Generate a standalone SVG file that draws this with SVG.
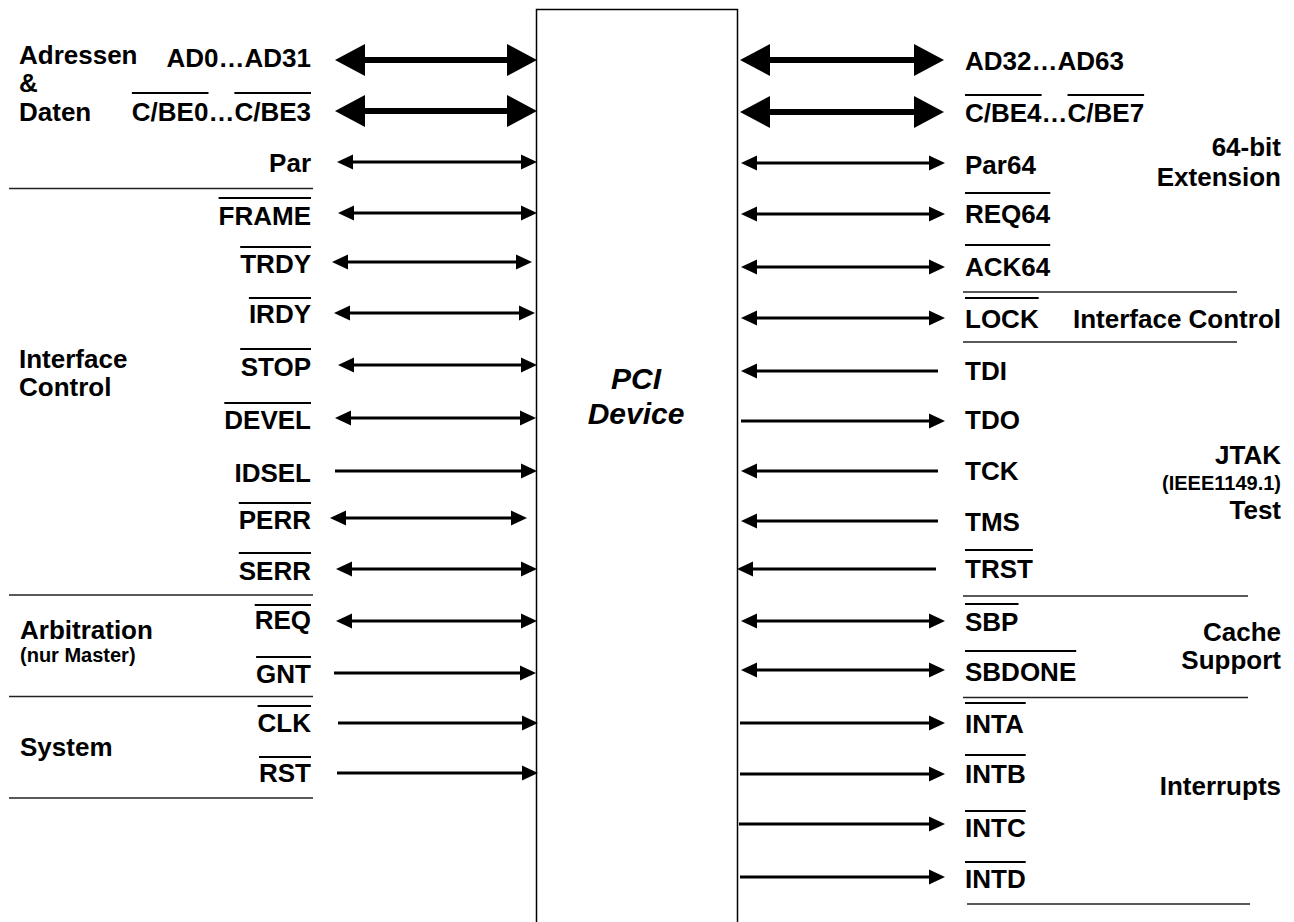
<svg xmlns="http://www.w3.org/2000/svg" width="1294" height="922" viewBox="0 0 1294 922">
<style>
text{font-family:"Liberation Sans",Arial,Helvetica,sans-serif;font-weight:bold;fill:#000}
.l{font-size:26px;text-anchor:end}
.r{font-size:26px;text-anchor:start}
.gl{font-size:26px;text-anchor:start}
.gr{font-size:26px;text-anchor:end}
.sm{font-size:20px}
.ov{stroke:#000;stroke-width:2}
.sep{stroke:#222;stroke-width:1.5}
.thin{stroke:#000;stroke-width:3;fill:none}
.thick{stroke:#000;stroke-width:6;fill:none}
.dbl{marker-start:url(#ah);marker-end:url(#ah)}
.one{marker-end:url(#ah)}
.dblT{marker-start:url(#AH);marker-end:url(#AH)}
</style>
<defs>
<marker id="ah" markerUnits="userSpaceOnUse" viewBox="0 0 16 16" markerWidth="16" markerHeight="16" refX="6" refY="8" orient="auto-start-reverse"><path d="M0,0.5 L16,8 L0,15.5 z" fill="#000"/></marker>
<marker id="AH" markerUnits="userSpaceOnUse" viewBox="0 0 30 32" markerWidth="30" markerHeight="32" refX="10" refY="16" orient="auto-start-reverse"><path d="M0,0 L30,16 L0,32 z" fill="#000"/></marker>
</defs>
<rect width="1294" height="922" fill="#fff"/>

<g id="pci-device">
<path d="M536.5 925 V9.5 H737.5 V925" fill="none" stroke="#000" stroke-width="1.5"/>
<text x="636" y="389" style="font-size:30px;font-style:italic;text-anchor:middle">PCI</text>
<text x="636" y="424" style="font-size:30px;font-style:italic;text-anchor:middle">Device</text>
</g>

<g id="connectors">
<line class="thick dblT" x1="355" y1="60" x2="517" y2="60"/>
<line class="thick dblT" x1="355" y1="111" x2="517" y2="111"/>
<line class="thin dbl" x1="347" y1="162" x2="527" y2="162"/>
<line class="thin dbl" x1="348" y1="213" x2="527" y2="213"/>
<line class="thin dbl" x1="342" y1="262" x2="522" y2="262"/>
<line class="thin dbl" x1="344" y1="313" x2="525" y2="313"/>
<line class="thin dbl" x1="348" y1="365" x2="527" y2="365"/>
<line class="thin dbl" x1="345" y1="418" x2="526" y2="418"/>
<line class="thin one" x1="335" y1="471" x2="527" y2="471"/>
<line class="thin dbl" x1="340" y1="518" x2="517" y2="518"/>
<line class="thin dbl" x1="346" y1="569" x2="527" y2="569"/>
<line class="thin dbl" x1="346" y1="621" x2="527" y2="621"/>
<line class="thin one" x1="334" y1="673" x2="526" y2="673"/>
<line class="thin one" x1="338" y1="723" x2="528" y2="723"/>
<line class="thin one" x1="337" y1="773" x2="528" y2="773"/>

<line class="thick dblT" x1="760" y1="60" x2="924" y2="60"/>
<line class="thick dblT" x1="760" y1="112" x2="924" y2="112"/>
<line class="thin dbl" x1="751" y1="163" x2="935" y2="163"/>
<line class="thin dbl" x1="751" y1="214" x2="935" y2="214"/>
<line class="thin dbl" x1="751" y1="267" x2="935" y2="267"/>
<line class="thin dbl" x1="751" y1="318" x2="935" y2="318"/>
<line class="thin one" x1="938" y1="371" x2="751" y2="371"/>
<line class="thin one" x1="741" y1="421" x2="935" y2="421"/>
<line class="thin one" x1="938" y1="471" x2="751" y2="471"/>
<line class="thin one" x1="938" y1="521" x2="751" y2="521"/>
<line class="thin one" x1="936" y1="569" x2="747" y2="569"/>
<line class="thin dbl" x1="751" y1="621" x2="935" y2="621"/>
<line class="thin dbl" x1="751" y1="670" x2="935" y2="670"/>
<line class="thin one" x1="740" y1="723" x2="935" y2="723"/>
<line class="thin one" x1="740" y1="774" x2="935" y2="774"/>
<line class="thin one" x1="739" y1="824" x2="935" y2="824"/>
<line class="thin one" x1="740" y1="877" x2="935" y2="877"/>
</g>

<g id="separators">
<line class="sep" x1="9" y1="188.5" x2="313" y2="188.5"/>
<line class="sep" x1="9" y1="595" x2="313" y2="595"/>
<line class="sep" x1="9" y1="696.5" x2="313" y2="696.5"/>
<line class="sep" x1="9" y1="798" x2="313" y2="798"/>
<line class="sep" x1="963" y1="292" x2="1237" y2="292"/>
<line class="sep" x1="963" y1="342" x2="1237" y2="342"/>
<line class="sep" x1="963" y1="596" x2="1248" y2="596"/>
<line class="sep" x1="963" y1="697.5" x2="1248" y2="697.5"/>
<line class="sep" x1="967" y1="904" x2="1250" y2="904"/>
</g>

<g id="group-labels-left">
<text class="gl" x="19" y="64">Adressen</text>
<text class="gl" x="19" y="92">&amp;</text>
<text class="gl" x="19" y="121">Daten</text>
<text class="gl" x="19" y="368">Interface</text>
<text class="gl" x="19" y="396">Control</text>
<text class="gl" x="20" y="639">Arbitration</text>
<text class="gl sm" x="20" y="662">(nur Master)</text>
<text class="gl" x="20" y="756">System</text>
</g>

<g id="group-labels-right">
<text class="gr" x="1281" y="156">64-bit</text>
<text class="gr" x="1281" y="186">Extension</text>
<text class="gr" x="1281" y="328">Interface Control</text>
<text class="gr" x="1281" y="464">JTAK</text>
<text class="gr sm" x="1281" y="490">(IEEE1149.1)</text>
<text class="gr" x="1281" y="519">Test</text>
<text class="gr" x="1281" y="641">Cache</text>
<text class="gr" x="1281" y="669">Support</text>
<text class="gr" x="1281" y="795">Interrupts</text>
</g>

<g id="signals-left">
<g id="sig-ad0-31"><text class="l" x="311" y="67">AD0…AD31</text></g>
<g id="sig-cbe0-3"><text class="l" x="311" y="121">C/BE0…C/BE3</text><line class="ov" x1="131.9" y1="93" x2="208.5" y2="93"/><line class="ov" x1="234.4" y1="93" x2="311" y2="93"/></g>
<g id="sig-par"><text class="l" x="311" y="172">Par</text></g>
<g id="sig-frame"><text class="l" x="311" y="225">FRAME</text><line class="ov" x1="218.6" y1="198" x2="311" y2="198"/></g>
<g id="sig-trdy"><text class="l" x="311" y="273">TRDY</text><line class="ov" x1="240.2" y1="247" x2="311" y2="247"/></g>
<g id="sig-irdy"><text class="l" x="311" y="323">IRDY</text><line class="ov" x1="248.9" y1="298" x2="311" y2="298"/></g>
<g id="sig-stop"><text class="l" x="311" y="376">STOP</text><line class="ov" x1="240.2" y1="349" x2="311" y2="349"/></g>
<g id="sig-devel"><text class="l" x="311" y="429">DEVEL</text><line class="ov" x1="224.3" y1="403" x2="311" y2="403"/></g>
<g id="sig-idsel"><text class="l" x="311" y="482">IDSEL</text></g>
<g id="sig-perr"><text class="l" x="311" y="529">PERR</text><line class="ov" x1="238.8" y1="503" x2="311" y2="503"/></g>
<g id="sig-serr"><text class="l" x="311" y="580">SERR</text><line class="ov" x1="238.8" y1="553" x2="311" y2="553"/></g>
<g id="sig-req"><text class="l" x="311" y="629">REQ</text><line class="ov" x1="254.7" y1="605" x2="311" y2="605"/></g>
<g id="sig-gnt"><text class="l" x="311" y="683">GNT</text><line class="ov" x1="256.1" y1="657" x2="311" y2="657"/></g>
<g id="sig-clk"><text class="l" x="311" y="732">CLK</text><line class="ov" x1="257.6" y1="706" x2="311" y2="706"/></g>
<g id="sig-rst"><text class="l" x="311" y="782">RST</text><line class="ov" x1="259" y1="757" x2="311" y2="757"/></g>
</g>

<g id="signals-right">
<g id="sig-ad32-63"><text class="r" x="965" y="70">AD32…AD63</text></g>
<g id="sig-cbe4-7"><text class="r" x="965" y="122">C/BE4…C/BE7</text><line class="ov" x1="965" y1="95" x2="1041.6" y2="95"/><line class="ov" x1="1067.5" y1="95" x2="1144.1" y2="95"/></g>
<g id="sig-par64"><text class="r" x="965" y="174">Par64</text></g>
<g id="sig-req64"><text class="r" x="965" y="223">REQ64</text><line class="ov" x1="965" y1="193" x2="1050.3" y2="193"/></g>
<g id="sig-ack64"><text class="r" x="965" y="276">ACK64</text><line class="ov" x1="965" y1="245" x2="1050.2" y2="245"/></g>
<g id="sig-lock"><text class="r" x="965" y="328">LOCK</text><line class="ov" x1="965" y1="298" x2="1038.7" y2="298"/></g>
<g id="sig-tdi"><text class="r" x="965" y="380">TDI</text></g>
<g id="sig-tdo"><text class="r" x="965" y="429">TDO</text></g>
<g id="sig-tck"><text class="r" x="965" y="480">TCK</text></g>
<g id="sig-tms"><text class="r" x="965" y="531">TMS</text></g>
<g id="sig-trst"><text class="r" x="965" y="578">TRST</text><line class="ov" x1="965" y1="550" x2="1032.9" y2="550"/></g>
<g id="sig-sbp"><text class="r" x="965" y="631">SBP</text><line class="ov" x1="965" y1="604" x2="1018.5" y2="604"/></g>
<g id="sig-sbdone"><text class="r" x="965" y="681">SBDONE</text><line class="ov" x1="965" y1="651" x2="1076.2" y2="651"/></g>
<g id="sig-inta"><text class="r" x="965" y="733">INTA</text><line class="ov" x1="965" y1="703" x2="1025.7" y2="703"/></g>
<g id="sig-intb"><text class="r" x="965" y="783">INTB</text><line class="ov" x1="965" y1="755" x2="1025.7" y2="755"/></g>
<g id="sig-intc"><text class="r" x="965" y="837">INTC</text><line class="ov" x1="965" y1="811" x2="1025.7" y2="811"/></g>
<g id="sig-intd"><text class="r" x="965" y="888">INTD</text><line class="ov" x1="965" y1="862" x2="1025.7" y2="862"/></g>
</g>
</svg>
